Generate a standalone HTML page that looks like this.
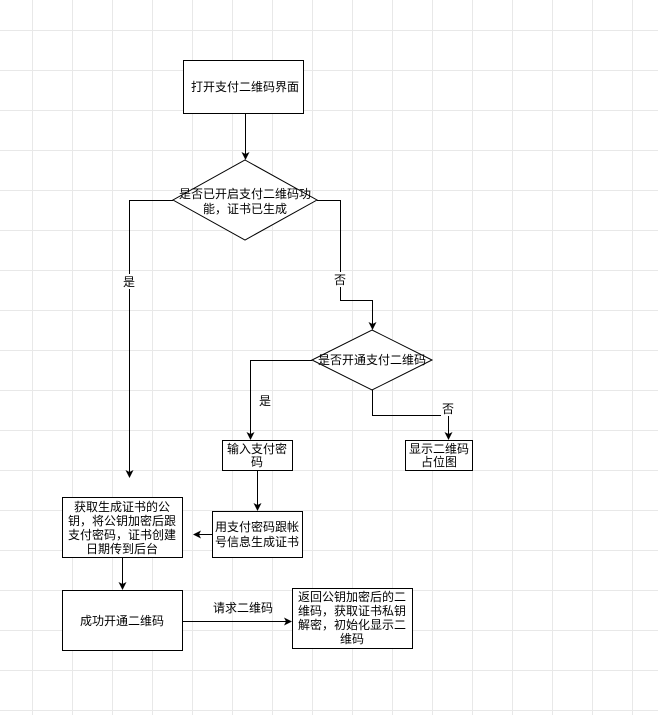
<!DOCTYPE html>
<html><head><meta charset="utf-8"><style>
body{margin:0;width:658px;height:715px;overflow:hidden;background:#fff;
background-image:linear-gradient(#e8e8e8 1px,transparent 1px),linear-gradient(90deg,#e8e8e8 1px,transparent 1px);
background-size:40px 40px;background-position:32px 30px;}
svg{position:absolute;left:0;top:0}
text{font-family:"Liberation Sans","Noto Sans CJK SC",sans-serif;font-size:12px;fill:#000;text-anchor:middle}
</style></head><body>
<svg width="658" height="715">
<defs><marker id="a" markerWidth="8" markerHeight="8" refX="7" refY="4" orient="auto" markerUnits="userSpaceOnUse"><path d="M0,0 L8,4 L0,8 L2,4 z" fill="#000"/></marker></defs>
<g fill="#fff" stroke="#000" stroke-width="1">
<rect x="183.5" y="60.5" width="120" height="53"/>
<polygon points="245,160 317,200 245,240 173,200"/>
<polygon points="372,330 432,360 372,390 312,360"/>
<rect x="222.5" y="440.5" width="70" height="30"/>
<rect x="405.5" y="440.5" width="67" height="30"/>
<rect x="62.5" y="497.5" width="120" height="60"/>
<rect x="212.5" y="511.5" width="90" height="46"/>
<rect x="62.5" y="590.5" width="120" height="60"/>
<rect x="292.5" y="588.5" width="120" height="60"/>
</g>
<g fill="none" stroke="#000" stroke-width="1" marker-end="url(#a)">
<path d="M245.5 113 V159"/>
<path d="M173 200.5 H129.5 V477"/>
<path d="M317 200.5 H340.5 V300.5 H372.5 V329"/>
<path d="M312 360.5 H250.5 V439"/>
<path d="M372.5 390 V415.5 H448.5 V439"/>
<path d="M257.5 471 V510"/>
<path d="M212 534.5 H194"/>
<path d="M122.5 558 V589"/>
<path d="M183 621.5 H291"/>
</g>
<text x="245" y="91">打开支付二维码界面</text>
<text x="245" y="198">是否已开启支付二维码功</text>
<text x="245" y="213">能，证书已生成</text>
<rect x="122" y="274" width="14" height="15" fill="#fff"/><text x="129" y="286">是</text>
<rect x="333" y="272" width="14" height="15" fill="#fff"/><text x="340" y="284">否</text>
<text x="372" y="364">是否开通支付二维码</text>
<text x="265" y="405">是</text>
<rect x="441" y="402" width="14" height="14" fill="#fff"/><text x="448" y="413">否</text>
<text x="257" y="453">输入支付密</text><text x="257" y="466">码</text>
<text x="439" y="453">显示二维码</text><text x="439" y="466">占位图</text>
<text x="122" y="511">获取生成证书的公</text>
<text x="122" y="525">钥，将公钥加密后跟</text>
<text x="122" y="539">支付密码，证书创建</text>
<text x="122" y="553">日期传到后台</text>
<text x="257" y="531">用支付密码跟帐</text>
<text x="257" y="546">号信息生成证书</text>
<text x="122" y="625">成功开通二维码</text>
<text x="243" y="612">请求二维码</text>
<text x="352" y="601">返回公钥加密后的二</text>
<text x="352" y="615">维码，获取证书私钥</text>
<text x="352" y="629">解密，初始化显示二</text>
<text x="352" y="643">维码</text>
</svg>
</body></html>
